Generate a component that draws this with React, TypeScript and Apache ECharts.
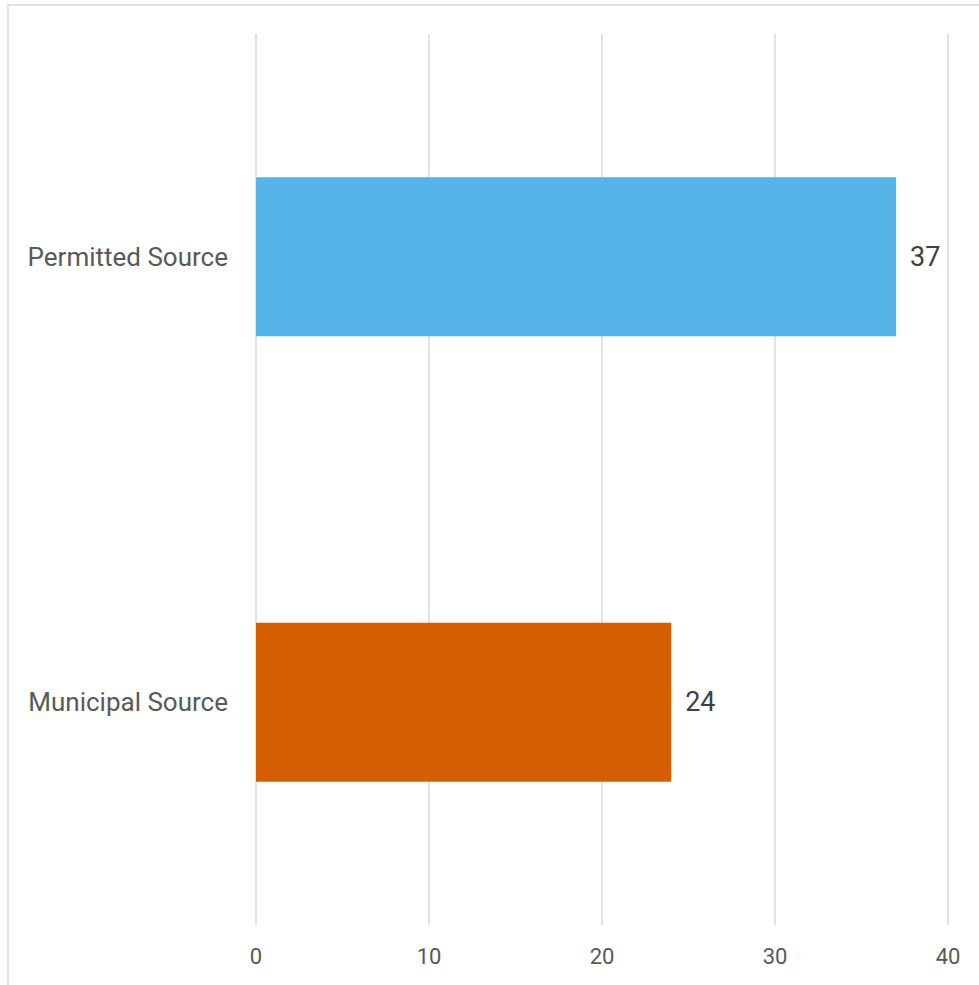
import React, { useEffect, useRef } from "react";
import * as echarts from "echarts";

const categories = ["Municipal Source", "Permitted Source"];
const values = [24, 37];
const barColors = ["#D55E00", "#56B4E9"];
const xTicks = [0, 10, 20, 30, 40];

export default function App() {
  const ref = useRef<HTMLDivElement>(null);
  useEffect(() => {
    const chart = echarts.init(ref.current!, null, { renderer: "svg" });
    chart.setOption({
      animation: false,
      backgroundColor: "#ffffff",
      graphic: [
        {
          type: "rect",
          shape: { x: 8, y: 5, width: 990, height: 1000 },
          style: { fill: "none", stroke: "#d9d9d9", lineWidth: 1.5 },
          silent: true,
          z: -1,
        },
      ],
      grid: { left: 256, right: 31, top: 34, bottom: 60, containLabel: false },
      xAxis: {
        type: "value",
        min: xTicks[0],
        max: xTicks[xTicks.length - 1],
        interval: 10,
        axisLine: { show: false },
        axisTick: { show: false },
        splitLine: { show: true, lineStyle: { color: "#d9d9d9", width: 1.5 } },
        axisLabel: {
          color: "#595959",
          fontSize: 22,
          fontFamily: "Roboto",
          margin: 20,
        },
      },
      yAxis: {
        type: "category",
        data: categories,
        axisLine: { show: false },
        axisTick: { show: false },
        axisLabel: {
          color: "#595959",
          fontSize: 26,
          fontFamily: "Roboto",
          margin: 28,
        },
      },
      series: [
        {
          type: "bar",
          barWidth: 159,
          data: values.map((v, i) => ({ value: v, itemStyle: { color: barColors[i] } })),
          label: {
            show: true,
            position: "right",
            distance: 14,
            color: "#404040",
            fontSize: 27,
            fontFamily: "Roboto",
          },
        },
      ],
    });
    return () => chart.dispose();
  }, []);
  return (
    <div
      ref={ref}
      style={{ position: "absolute", left: 0, top: 0, width: 979, height: 985 }}
    />
  );
}
